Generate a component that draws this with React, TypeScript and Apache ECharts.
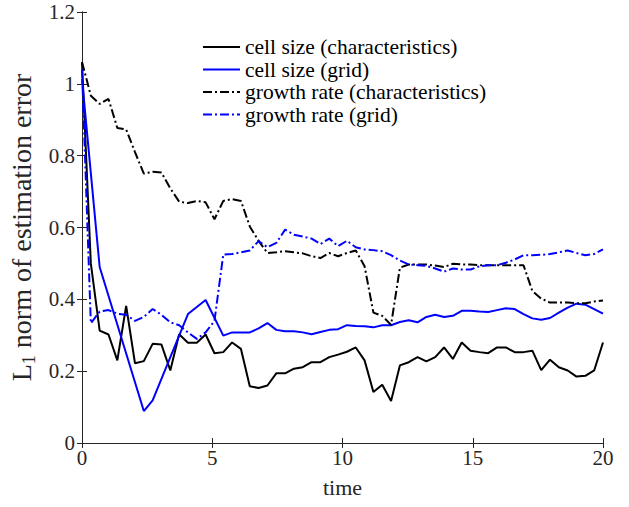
import React, { useEffect, useRef } from "react";
import * as echarts from "echarts";

// time grid: 60 samples on [0, 20]
const time: number[] = Array.from({ length: 60 }, (_, i) => (i * 20) / 59);

const cellSizeChar = [
  1.06, 0.5, 0.313, 0.302, 0.23, 0.382, 0.222, 0.228, 0.276, 0.274,
  0.202, 0.303, 0.279, 0.279, 0.302, 0.25, 0.253, 0.28, 0.262, 0.158,
  0.153, 0.16, 0.194, 0.194, 0.207, 0.211, 0.225, 0.225, 0.239, 0.246,
  0.254, 0.266, 0.23, 0.142, 0.162, 0.117, 0.216, 0.225, 0.239, 0.227,
  0.239, 0.266, 0.234, 0.28, 0.257, 0.253, 0.25, 0.266, 0.266, 0.253,
  0.253, 0.257, 0.203, 0.232, 0.211, 0.202, 0.185, 0.187, 0.202, 0.28,
];

const cellSizeGridIdx = [
  0, 2, 7, 8, 12, 14, 16, 17, 18, 19, 20, 21, 22, 23, 24, 25, 26, 27, 28, 29,
  30, 31, 32, 33, 34, 35, 36, 37, 38, 39, 40, 41, 42, 43, 44, 45, 46, 47, 48,
  49, 50, 51, 52, 53, 54, 55, 56, 57, 58, 59,
];
const cellSizeGridVal = [
  1.013, 0.49, 0.089, 0.119, 0.359, 0.398, 0.299, 0.308, 0.308, 0.308, 0.319,
  0.334, 0.315, 0.311, 0.311, 0.308, 0.303, 0.309, 0.315, 0.317, 0.328, 0.326,
  0.325, 0.322, 0.328, 0.328, 0.337, 0.342, 0.336, 0.351, 0.357, 0.351, 0.354,
  0.368, 0.368, 0.366, 0.365, 0.37, 0.375, 0.373, 0.359, 0.347, 0.343, 0.348,
  0.363, 0.377, 0.388, 0.385, 0.373, 0.36,
];

const growthRateChar = [
  1.061, 0.967, 0.944, 0.958, 0.877, 0.873, 0.81, 0.75, 0.755, 0.753,
  0.709, 0.672, 0.668, 0.674, 0.67, 0.623, 0.674, 0.679, 0.674, 0.603,
  0.563, 0.529, 0.531, 0.534, 0.531, 0.528, 0.52, 0.515, 0.529, 0.52,
  0.529, 0.536, 0.492, 0.363, 0.354, 0.329, 0.488, 0.497, 0.497, 0.497,
  0.494, 0.49, 0.499, 0.497, 0.497, 0.495, 0.495, 0.495, 0.495, 0.495,
  0.495, 0.423, 0.402, 0.391, 0.391, 0.391, 0.389, 0.389, 0.394, 0.397,
];

const growthRateGrid = [
  1.04, 0.333, 0.366, 0.37, 0.36, 0.357, 0.34, 0.351, 0.373, 0.357,
  0.336, 0.328, 0.308, 0.29, 0.308, 0.34, 0.525, 0.526, 0.531, 0.536,
  0.562, 0.545, 0.557, 0.594, 0.58, 0.575, 0.569, 0.554, 0.569, 0.548,
  0.563, 0.545, 0.539, 0.537, 0.534, 0.523, 0.508, 0.497, 0.495, 0.493,
  0.486, 0.477, 0.486, 0.483, 0.483, 0.492, 0.495, 0.495, 0.502, 0.511,
  0.523, 0.523, 0.524, 0.526, 0.531, 0.536, 0.529, 0.523, 0.526, 0.539,
];

const seriesNames = [
  "cell size (characteristics)",
  "cell size (grid)",
  "growth rate (characteristics)",
  "growth rate (grid)",
];

const FONT = "Liberation Serif";
const AXIS = "#262626";
const DASHDOT = [9, 3, 2, 3];

export default function App() {
  const ref = useRef<HTMLDivElement>(null);
  useEffect(() => {
    const chart = echarts.init(ref.current!, null, { renderer: "svg" });
    const pair = (vals: number[]) => vals.map((v, i) => [time[i], v]);
    const axisCommon = {
      type: "value" as const,
      axisLine: { show: true, lineStyle: { color: AXIS, width: 1 } },
      axisTick: { show: true, inside: true, length: 5, lineStyle: { color: AXIS } },
      splitLine: { show: false },
    };
    chart.setOption({
      animation: false,
      backgroundColor: "#fff",
      textStyle: { fontFamily: FONT },
      grid: { left: 82, right: 26, top: 12, bottom: 64, containLabel: false, outerBoundsMode: "none" },
      legend: {
        orient: "vertical",
        left: 202,
        top: 36,
        padding: 0,
        itemWidth: 37,
        itemHeight: 14,
        itemGap: 0.5,
        data: seriesNames,
        itemStyle: { opacity: 0, borderWidth: 0 },
        textStyle: { fontFamily: FONT, fontSize: 21.5, color: "#000", lineHeight: 20 },
      },
      xAxis: [
        {
          ...axisCommon,
          min: 0,
          max: 20,
          interval: 5,
          name: "time",
          nameLocation: "middle",
          nameGap: 33,
          nameTextStyle: { fontFamily: FONT, fontSize: 22, color: AXIS },
          axisLabel: { fontFamily: FONT, fontSize: 21, color: AXIS, margin: 6, lineHeight: 18 },
        },
        {
          ...axisCommon,
          position: "top",
          min: 0,
          max: 20,
          interval: 5,
          axisLabel: { show: false },
        },
      ],
      yAxis: [
        {
          ...axisCommon,
          min: 0,
          max: 1.2,
          interval: 0.2,
          name: "{m|L}{s|1}{m| norm of estimation error}",
          nameLocation: "middle",
          nameGap: 38,
          nameTextStyle: {
            fontFamily: FONT,
            color: AXIS,
            rich: {
              m: { fontFamily: FONT, fontSize: 28, color: AXIS, lineHeight: 32, verticalAlign: "middle" },
              s: { fontFamily: FONT, fontSize: 18, color: AXIS, lineHeight: 32, verticalAlign: "bottom" },
            },
          },
          axisLabel: { fontFamily: FONT, fontSize: 21, color: AXIS, margin: 7, lineHeight: 14 },
        },
        {
          ...axisCommon,
          position: "right",
          min: 0,
          max: 1.2,
          interval: 0.2,
          axisLabel: { show: false },
        },
      ],
      series: [
        {
          name: seriesNames[0],
          type: "line",
          symbol: "none",
          data: pair(cellSizeChar),
          lineStyle: { color: "#000", width: 2, type: "solid" },
          itemStyle: { color: "#000" },
        },
        {
          name: seriesNames[1],
          type: "line",
          symbol: "none",
          data: cellSizeGridIdx.map((idx, k) => [time[idx], cellSizeGridVal[k]]),
          lineStyle: { color: "#0000ff", width: 2, type: "solid" },
          itemStyle: { color: "#0000ff" },
        },
        {
          name: seriesNames[2],
          type: "line",
          symbol: "none",
          data: pair(growthRateChar),
          lineStyle: { color: "#000", width: 2, type: DASHDOT },
          itemStyle: { color: "#000" },
        },
        {
          name: seriesNames[3],
          type: "line",
          symbol: "none",
          data: pair(growthRateGrid),
          lineStyle: { color: "#0000ff", width: 2, type: DASHDOT },
          itemStyle: { color: "#0000ff" },
        },
      ],
    });
    return () => chart.dispose();
  }, []);
  return (
    <div
      ref={ref}
      style={{ position: "fixed", left: 0, top: 0, width: 629, height: 507, background: "#fff" }}
    />
  );
}
